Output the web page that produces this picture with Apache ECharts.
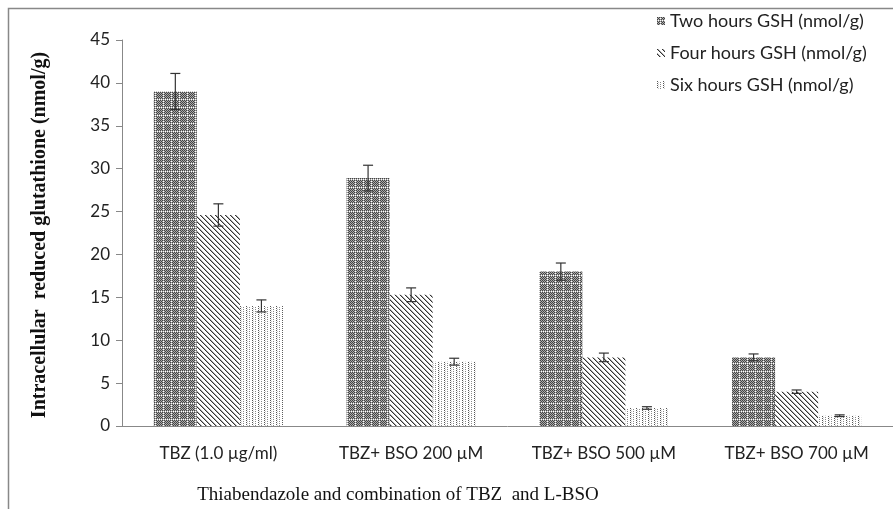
<!DOCTYPE html>
<html>
<head>
<meta charset="utf-8">
<script src="https://cdn.jsdelivr.net/npm/echarts@6/dist/echarts.min.js"></script>
<style>html,body{margin:0;padding:0;background:#fff}#c{width:893px;height:509px}</style>
</head>
<body>
<div id="c"></div>
<script>
const categories = ['TBZ (1.0 µg/ml)', 'TBZ+ BSO 200 µM', 'TBZ+ BSO 500 µM', 'TBZ+ BSO 700 µM'];
const seriesNames = ['Two hours GSH (nmol/g)', 'Four hours GSH (nmol/g)', 'Six hours GSH (nmol/g)'];
const twoHours = [39, 28.9, 18, 8];
const twoErr = [2.1, 1.5, 1.0, 0.4];
const fourHours = [24.6, 15.3, 8, 4];
const fourErr = [1.3, 0.8, 0.5, 0.2];
const sixHours = [14, 7.5, 2.1, 1.2];
const sixErr = [0.7, 0.4, 0.15, 0.1];
const yTicks = [0, 5, 10, 15, 20, 25, 30, 35, 40, 45];

function makePattern(kind) {
  const c = document.createElement('canvas');
  let w, h;
  if (kind === 0) { w = 8; h = 8; }
  else if (kind === 1) { w = 5; h = 5; }
  else { w = 6; h = 4; }
  c.width = w; c.height = h;
  const ctx = c.getContext('2d');
  ctx.fillStyle = '#fff';
  ctx.fillRect(0, 0, w, h);
  for (let x = 0; x < w; x++) {
    for (let y = 0; y < h; y++) {
      let col = null;
      if (kind === 0) {
        if (x === 3 || y === 3) col = ((x + y) % 2 === 0) ? '#fff' : '#999';
        else col = ((x + y) % 2 === 0) ? '#444' : '#aaa';
      } else if (kind === 1) {
        const d = ((x - y) % 5 + 5) % 5;
        if (d === 0) col = '#333';
        else if (d === 1) col = '#aaa';
      } else {
        if (x === 0 && y % 2 === 0) col = '#555';
        else if (x === 3 && y % 2 === 1) col = '#888';
        else if (x === 1 && y % 2 === 1) col = '#ccc';
      }
      if (col) { ctx.fillStyle = col; ctx.fillRect(x, y, 1, 1); }
    }
  }
  return { image: c, repeat: 'repeat' };
}

const patterns = [makePattern(0), makePattern(1), makePattern(2)];
const values = [twoHours, fourHours, sixHours];
const errs = [twoErr, fourErr, sixErr];
const GAP = 0.33;

const series = [];
values.forEach((vals, i) => {
  series.push({
    name: seriesNames[i],
    type: 'bar',
    data: vals,
    barGap: 0,
    barCategoryGap: (GAP * 100) + '%',
    itemStyle: { color: patterns[i] },
    emphasis: { disabled: true }
  });
});
values.forEach((vals, i) => {
  const d = vals.map((v, k) => [k, v - errs[i][k], v + errs[i][k]]);
  series.push({
    type: 'custom',
    name: 'err' + i,
    data: d,
    z: 10,
    silent: true,
    renderItem: function (params, api) {
      const k = api.value(0);
      const lo = api.coord([k, api.value(1)]);
      const hi = api.coord([k, api.value(2)]);
      const band = api.size([1, 0])[0];
      const bw = band * (1 - GAP) / 3;
      const cx = lo[0] + (i - 1) * bw;
      const cap = 5;
      const st = { stroke: '#333', lineWidth: 1.2 };
      return {
        type: 'group',
        children: [
          { type: 'line', shape: { x1: cx, y1: lo[1], x2: cx, y2: hi[1] }, style: st },
          { type: 'line', shape: { x1: cx - cap, y1: hi[1], x2: cx + cap, y2: hi[1] }, style: st },
          { type: 'line', shape: { x1: cx - cap, y1: lo[1], x2: cx + cap, y2: lo[1] }, style: st }
        ]
      };
    }
  });
});

const chart = echarts.init(document.getElementById('c'), null, { renderer: 'canvas' });
chart.setOption({
  animation: false,
  backgroundColor: '#fff',
  grid: { left: 122, right: -1, top: 40, bottom: 83, containLabel: false },
  legend: {
    data: seriesNames,
    orient: 'vertical',
    left: 652,
    top: 7,
    itemWidth: 8,
    itemHeight: 8,
    itemGap: 14,
    icon: 'rect',
    textStyle: { fontFamily: 'Lato', fontSize: 18, color: '#222' },
    selectedMode: false
  },
  xAxis: {
    type: 'category',
    data: categories,
    axisLine: { lineStyle: { color: '#888', width: 1 } },
    axisTick: { show: false },
    axisLabel: { fontFamily: 'Lato', fontSize: 17, color: '#222', margin: 19 }
  },
  yAxis: {
    type: 'value',
    min: yTicks[0],
    max: yTicks[yTicks.length - 1],
    interval: 5,
    splitLine: { show: false },
    axisLine: { show: true, lineStyle: { color: '#888', width: 1 } },
    axisTick: { show: true, length: 6, lineStyle: { color: '#888' } },
    axisLabel: { fontFamily: 'Lato', fontSize: 17, color: '#222', margin: 12 }
  },
  graphic: [
    { type: 'polyline', shape: { points: [[8.5, 509], [8.5, 8.5], [893, 8.5]] }, style: { stroke: '#888', lineWidth: 1.5, fill: null } },
    { type: 'text', x: 40, y: 235, rotation: Math.PI / 2, style: { text: 'Intracellular  reduced glutathione (nmol/g)', font: 'bold 20px "Liberation Serif"', fill: '#111', align: 'center', verticalAlign: 'middle' } },
    { type: 'text', x: 398, y: 495, style: { text: 'Thiabendazole and combination of TBZ  and L-BSO', font: '19px "Liberation Serif"', fill: '#111', align: 'center', verticalAlign: 'middle' } }
  ],
  series: series
});
</script>
</body>
</html>
